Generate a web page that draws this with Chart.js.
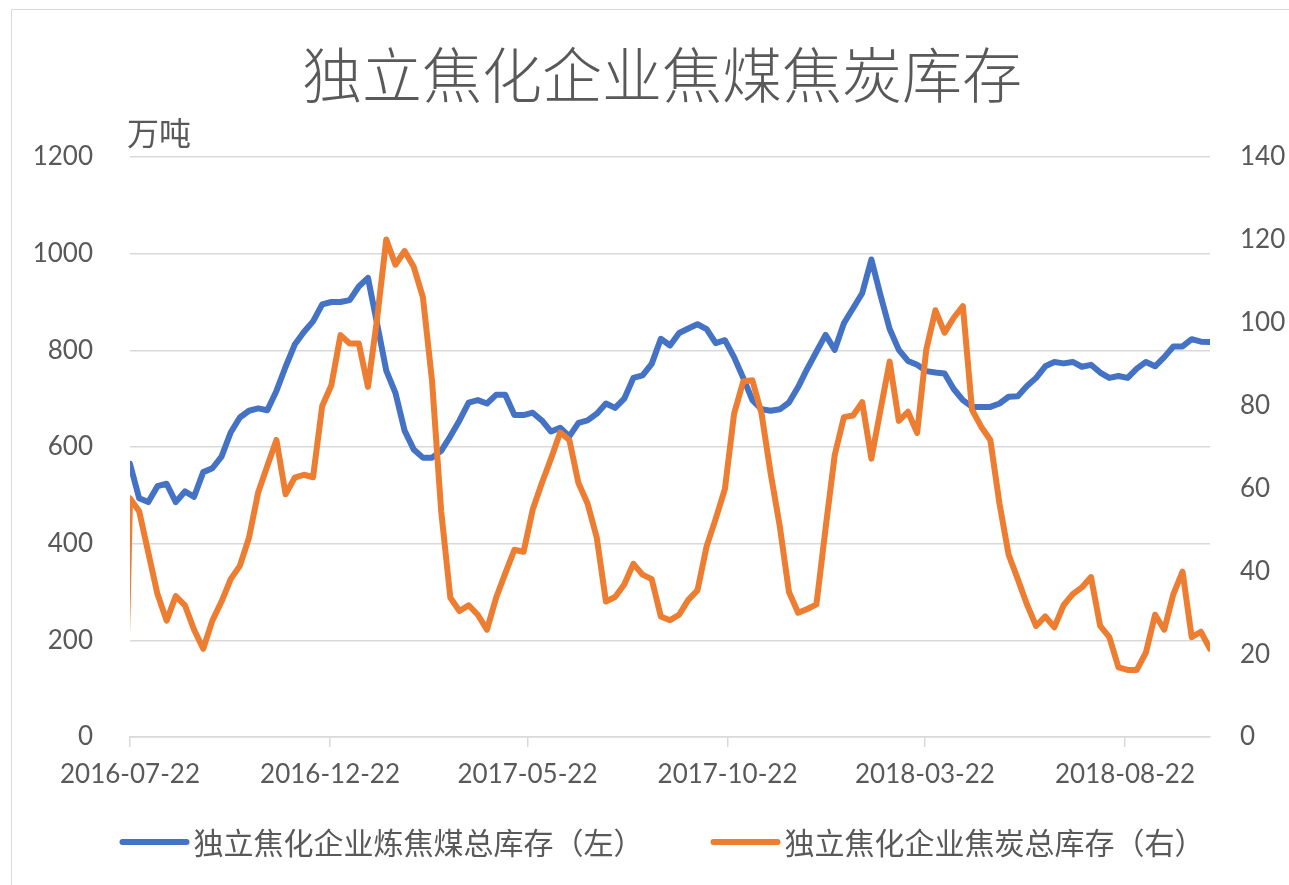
<!DOCTYPE html>
<html>
<head>
<meta charset="utf-8">
<script src="https://cdn.jsdelivr.net/npm/chart.js@4"></script>
<style>
  html, body { margin: 0; padding: 0; background: #fff; overflow: hidden; width: 1289px; height: 885px; }
  #frame { position: absolute; left: 11px; top: 9px; width: 1300px; height: 880px; border: 1px solid #d9d9d9; }
  canvas { display: block; }
</style>
</head>
<body>
<div id="frame"><canvas id="chart" width="1300" height="880"></canvas></div>
<script>
// Weekly stocks of independent coking plants
const titleText = '独立焦化企业焦煤焦炭库存';
const unitLabel = '万吨';
const seriesNames = ['独立焦化企业炼焦煤总库存（左）', '独立焦化企业焦炭总库存（右）'];

const firstDate = '2016-07-22';   // first weekly observation
const lastDate = '2018-10-26';    // last weekly observation
const tickDates = ['2016-07-22', '2016-12-22', '2017-05-22', '2017-10-22', '2018-03-22', '2018-08-22'];

// coking coal total stock, 10k t (left axis)
const coalStock = [
  565, 494, 486, 519, 524, 486, 508, 497, 548, 556,
  580, 630, 661, 675, 680, 676, 716, 766, 812, 838,
  860, 895, 900, 900, 904, 932, 950, 855, 758, 712,
  634, 595, 578, 578, 592, 622, 655, 692, 697, 690,
  708, 708, 666, 666, 671, 655, 632, 640, 622, 650,
  655, 669, 690, 681, 700, 743, 748, 772, 824, 810,
  836, 845, 854, 844, 815, 821, 786, 743, 697, 678,
  675, 678, 692, 724, 762, 797, 832, 801, 856, 887,
  918, 988, 914, 844, 801, 778, 770, 757, 754, 752,
  720, 697, 683, 683, 683, 690, 704, 705, 726, 743,
  767, 776, 773, 776, 766, 770, 754, 743, 747, 743,
  762, 776, 767, 786, 808, 808, 823, 818, 817
];

// coke total stock, 10k t (right axis)
const cokeStock = [
  57.6, 54.5, 44.5, 34.5, 28.1, 34.0, 31.8, 25.9, 21.3, 28.1,
  32.7, 38.1, 41.3, 48.1, 59.0, 65.4, 71.7, 58.6, 62.6, 63.3,
  62.7, 79.9, 84.9, 97.0, 95.0, 95.0, 84.5, 101.0, 120.1, 114.0,
  117.3, 113.5, 106.2, 86.0, 54.5, 33.6, 30.4, 31.8, 29.5, 25.9,
  33.6, 39.5, 45.2, 44.7, 54.9, 61.3, 67.2, 73.5, 71.7, 61.3,
  56.3, 48.1, 32.7, 33.8, 36.8, 41.8, 39.2, 38.1, 29.1, 28.2,
  29.5, 33.1, 35.4, 46.0, 52.7, 59.9, 78.0, 85.8, 86.1, 78.1,
  63.6, 50.8, 35.0, 30.0, 30.9, 32.0, 50.4, 68.1, 77.2, 77.6,
  80.8, 67.2, 79.0, 90.6, 76.3, 78.5, 73.4, 93.5, 103.0, 97.6,
  101.2, 104.0, 79.0, 74.9, 71.7, 56.3, 44.0, 38.1, 32.0, 26.8,
  29.1, 26.5, 31.8, 34.5, 36.1, 38.6, 26.8, 24.1, 16.8, 16.2,
  16.2, 20.4, 29.5, 25.9, 34.5, 39.9, 24.1, 25.4, 21.3
];

// earlier coke reading that sits just before the visible range
const cokeLeadDate = '2016-07-18';
const cokeLeadValue = 0;

const DAY = 86400000;
const dayOf = s => (Date.parse(s + 'T00:00:00Z') - Date.parse(firstDate + 'T00:00:00Z')) / DAY;
const weekDays = coalStock.map((_, i) => i * 7);

const grey = '#595959';
const gridGrey = '#d9d9d9';
const numFont = "Lato, 'Liberation Sans', sans-serif";
const cjkFont = "'Noto Sans CJK SC', 'Noto Sans', sans-serif";

// unit caption above the left axis and a line-style legend under the axis
const captions = {
  id: 'captions',
  afterDraw(chart) {
    const ctx = chart.ctx;
    const area = chart.chartArea;
    ctx.save();
    ctx.fillStyle = grey;
    ctx.textBaseline = 'middle';
    ctx.textAlign = 'left';
    ctx.font = `32px ${cjkFont}`;
    ctx.fillText(unitLabel, area.left - 3, area.top - 24);

    ctx.font = `30px ${cjkFont}`;
    const markLen = 70, markGap = 4, itemGap = 67;
    const sets = chart.data.datasets;
    const widths = sets.map(d => ctx.measureText(d.label).width);
    const total = widths.reduce((a, w) => a + markLen + markGap + w, 0) + itemGap * (sets.length - 1);
    let x = chart.width / 2 - total / 2;
    const y = 832;
    sets.forEach((d, i) => {
      ctx.strokeStyle = d.borderColor;
      ctx.lineWidth = 6;
      ctx.lineCap = 'round';
      ctx.beginPath();
      ctx.moveTo(x + 3, y);
      ctx.lineTo(x + markLen - 3, y);
      ctx.stroke();
      ctx.fillStyle = grey;
      ctx.fillText(d.label, x + markLen + markGap, y + 1);
      x += markLen + markGap + widths[i] + itemGap;
    });
    ctx.restore();
  }
};

new Chart(document.getElementById('chart'), {
  type: 'line',
  data: {
    datasets: [
      {
        label: seriesNames[0],
        data: weekDays.map((d, i) => ({ x: d, y: coalStock[i] })),
        borderColor: '#4472C4',
        backgroundColor: '#4472C4',
        borderWidth: 6,
        pointRadius: 0,
        tension: 0,
        borderJoinStyle: 'round',
        borderCapStyle: 'round',
        yAxisID: 'yL',
        order: 1
      },
      {
        label: seriesNames[1],
        data: [{ x: dayOf(cokeLeadDate), y: cokeLeadValue }]
          .concat(weekDays.map((d, i) => ({ x: d, y: cokeStock[i] }))),
        borderColor: '#ED7D31',
        backgroundColor: '#ED7D31',
        borderWidth: 6,
        pointRadius: 0,
        tension: 0,
        borderJoinStyle: 'round',
        borderCapStyle: 'round',
        yAxisID: 'yR',
        order: 0
      }
    ]
  },
  options: {
    responsive: false,
    animation: false,
    devicePixelRatio: 1,
    layout: { padding: { left: 0, right: 0, top: 0, bottom: 72 } },
    plugins: {
      legend: { display: false },
      tooltip: { enabled: false },
      title: {
        display: true,
        text: titleText,
        color: grey,
        font: { family: cjkFont, size: 60, weight: '300', lineHeight: 1.2 },
        padding: { top: 29, bottom: 46 }
      }
    },
    scales: {
      x: {
        type: 'linear',
        min: 0,
        max: dayOf(lastDate),
        afterBuildTicks: s => { s.ticks = tickDates.map(t => ({ value: dayOf(t) })); },
        afterFit: s => { s.height = 81; },
        ticks: {
          autoSkip: false,
          maxRotation: 0,
          color: grey,
          padding: 12,
          font: { family: numFont, size: 26 },
          callback: (v, i) => tickDates[i]
        },
        grid: { display: true, drawOnChartArea: false, drawTicks: true, tickLength: 10, color: gridGrey, lineWidth: 1.5 },
        border: { display: true, color: gridGrey, width: 1.5 }
      },
      yL: {
        position: 'left',
        min: 0,
        max: 1200,
        afterFit: s => { s.width = 118; },
        ticks: { stepSize: 200, color: grey, padding: 37, font: { family: numFont, size: 26 }, callback: v => String(v) },
        grid: { color: gridGrey, lineWidth: 1.5, drawTicks: false },
        border: { display: false }
      },
      yR: {
        position: 'right',
        min: 0,
        max: 140,
        afterFit: s => { s.width = 102; },
        ticks: { stepSize: 20, color: grey, padding: 30, font: { family: numFont, size: 26 }, callback: v => String(v) },
        grid: { drawOnChartArea: false, drawTicks: false },
        border: { display: false }
      }
    }
  },
  plugins: [captions]
});
</script>
</body>
</html>
